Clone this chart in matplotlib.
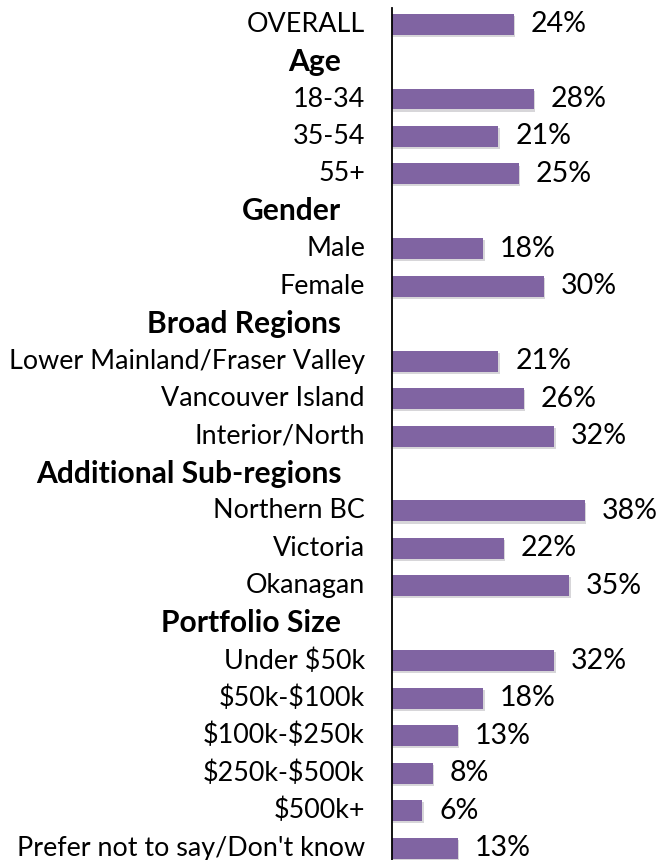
import matplotlib.pyplot as plt
import matplotlib.patheffects as pe

# rows from top to bottom; section headers carry no value
labels = ['OVERALL', 'Age', '18-34', '35-54', '55+',
          'Gender', 'Male', 'Female',
          'Broad Regions', 'Lower Mainland/Fraser Valley', 'Vancouver Island', 'Interior/North',
          'Additional Sub-regions', 'Northern BC', 'Victoria', 'Okanagan',
          'Portfolio Size', r'Under \$50k', r'\$50k-\$100k', r'\$100k-\$250k', r'\$250k-\$500k',
          r'\$500k+', "Prefer not to say/Don't know"]
values = [24, None, 28, 21, 25,
          None, 18, 30,
          None, 21, 26, 32,
          None, 38, 22, 35,
          None, 32, 18, 13, 8,
          6, 13]

bar_color = '#8064A2'
font = ['Lato', 'DejaVu Sans']

fig = plt.figure(figsize=(6.57, 8.60), dpi=100)
ax = fig.add_axes([392 / 657, 0, 253.5 / 657, 852 / 860])

n = len(labels)
for i, (lab, val) in enumerate(zip(labels, values)):
    if val is None:
        # section header
        ax.annotate(lab, xy=(0, i), xytext=(-36.5, 0), textcoords='offset points',
                    ha='right', va='center', fontsize=21.6, fontweight='bold',
                    family=font, color='black')
        continue
    ax.barh(i, val, height=0.56, color=bar_color, zorder=2,
            path_effects=[pe.SimplePatchShadow(offset=(1, -1.5), alpha=0.18),
                          pe.Normal()])
    ax.annotate(lab, xy=(0, i), xytext=(-19.5, 0), textcoords='offset points',
                ha='right', va='center', fontsize=19.4, family=font, color='black')
    ax.annotate(f'{val}%', xy=(val, i), xytext=(12, 0), textcoords='offset points',
                ha='left', va='center', fontsize=20.5, family=font, color='black')

ax.set_xlim(0, 50)
ax.set_ylim(n - 1 + 0.32, -0.43)
ax.set_xticks([])
ax.set_yticks([])
for side in ['top', 'right', 'bottom']:
    ax.spines[side].set_visible(False)
ax.spines['left'].set_linewidth(1.3)

fig.savefig('out.png', dpi=100)
